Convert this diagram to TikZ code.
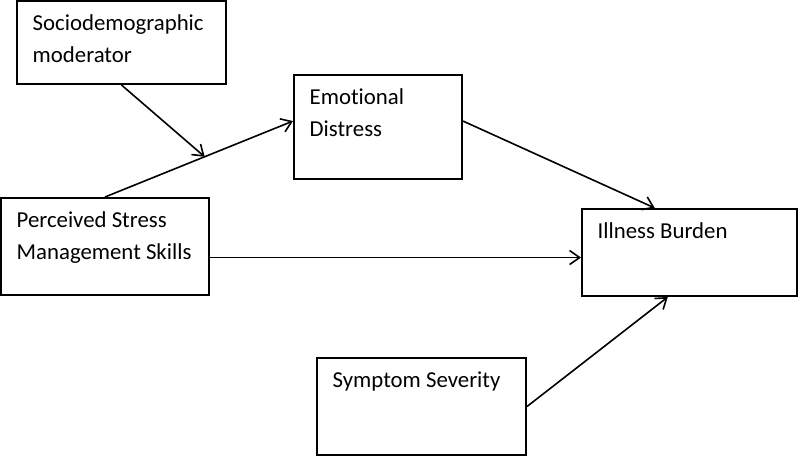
\documentclass[tikz,border=0pt]{standalone}
\usepackage{fontspec}
\setmainfont{Carlito}[Ligatures=CommonOff]
\usetikzlibrary{calc,arrows.meta}
\tikzset{
  box/.style={draw=black, line width=2pt, rectangle, inner sep=0pt},
  txt/.style={anchor=base west, inner sep=0pt, align=left, font=\fontsize{22.8}{32}\selectfont},
  conn/.style={-{Straight Barb[length=10pt,width=14pt]}, line width=1.6pt}
}
\begin{document}
\begin{tikzpicture}[x=1pt,y=-1pt]
\useasboundingbox (0,0) rectangle (798,456);
% boxes
\node[box, minimum width=209pt, minimum height=83pt] (moder) at (121.5,42.5) {};
\node[box, minimum width=168pt, minimum height=104pt] (emo) at (378,127) {};
\node[box, minimum width=208pt, minimum height=97pt] (pss) at (105,246.5) {};
\node[box, minimum width=215pt, minimum height=87pt] (ill) at (689.5,252.5) {};
\node[box, minimum width=209pt, minimum height=97pt] (sym) at (421.5,406.5) {};
% texts (base is on the last line)
\node[txt] (modertxt) at ($(moder.north west)+(16.5,62.5)$) {Sociodemographic\\moderator};
\node[txt] (emotxt) at ($(emo.north west)+(16.5,62.5)$) {Emotional\\Distress};
\node[txt] (psstxt) at ($(pss.north west)+(16.5,62.5)$) {Perceived Stress\\Management Skills};
\node[txt] (illtxt) at ($(ill.north west)+(16.5,30.5)$) {Illness Burden};
\node[txt] (symtxt) at ($(sym.north west)+(16.5,30.5)$) {Symptom Severity};
% connectors
\draw[conn] (pss.north) -- (emo.176);
\coordinate (mid) at ($(pss.north)!0.53!(emo.176)$);
\draw[conn] (moder.south) -- (mid);
\draw[conn] (emo.4) -- (ill.128);
\draw[conn] (pss.-6) -- (pss.-6 -| ill.west);
\draw[conn] (sym.east) -- (ill.244);
\end{tikzpicture}
\end{document}
